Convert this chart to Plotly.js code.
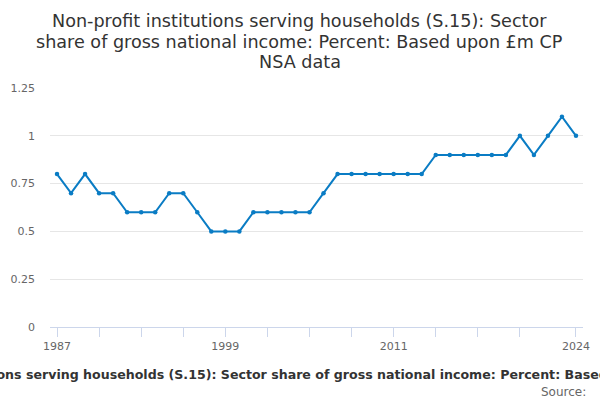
<!DOCTYPE html>
<html>
<head>
<meta charset="utf-8">
<script src="https://cdn.plot.ly/plotly-3.0.1.min.js"></script>
<style>
  html, body { margin: 0; padding: 0; background: #fff; }
  #chart { width: 600px; height: 400px; }
</style>
</head>
<body>
<div id="chart"></div>
<script>
//data
var years = [
  1987, 1988, 1989, 1990, 1991, 1992, 1993, 1994, 1995, 1996,
  1997, 1998, 1999, 2000, 2001, 2002, 2003, 2004, 2005, 2006,
  2007, 2008, 2009, 2010, 2011, 2012, 2013, 2014, 2015, 2016,
  2017, 2018, 2019, 2020, 2021, 2022, 2023, 2024
];
var share = [
  0.8, 0.7, 0.8, 0.7, 0.7, 0.6, 0.6, 0.6, 0.7, 0.7,
  0.6, 0.5, 0.5, 0.5, 0.6, 0.6, 0.6, 0.6, 0.6, 0.7,
  0.8, 0.8, 0.8, 0.8, 0.8, 0.8, 0.8, 0.9, 0.9, 0.9,
  0.9, 0.9, 0.9, 1.0, 0.9, 1.0, 1.1, 1.0
];

//x ticks: a mark every 3 years, labels only on a few
var tickYears = [1987, 1990, 1993, 1996, 1999, 2002, 2005, 2008, 2011, 2014, 2017, 2020, 2024];
var labelledYears = [1987, 1999, 2011, 2024];
var tickText = tickYears.map(function (y) {
  return labelledYears.indexOf(y) >= 0 ? String(y) : "";
});

var yTicks = [0, 0.25, 0.5, 0.75, 1, 1.25];
var yTickText = ["0", "0.25", "0.5", "0.75", "1", "1.25"];

var titleLines = [
  "Non-profit institutions serving households (S.15): Sector",
  "share of gross national income: Percent: Based upon £m CP",
  "NSA data",
];
var seriesName = "Non-profit institutions serving households (S.15): Sector share of gross national income: Percent: Based upon £m CP NSA data";

var data = [
  {
    x: years,
    y: share,
    mode: "lines+markers",
    type: "scatter",
    line: { color: "#0a7cc4", width: 2 },
    marker: { color: "#0a7cc4", size: 4.5 },
    hoverinfo: "x+y",
  },
];

//title: one annotation per line, centred on the page not the plot
var titleY = [1.28, 1.194, 1.108];
var annotations = titleLines.map(function (line, i) {
  return {
    text: line,
    xref: "paper",
    yref: "paper",
    x: 0.469,
    y: titleY[i],
    xanchor: "center",
    yanchor: "middle",
    showarrow: false,
    font: { size: 17.6, color: "#333" },
  };
});

//axis title, wider than the page and clipped on both sides
annotations.push({
  text: "<b>" + seriesName + "</b>",
  xref: "paper",
  yref: "paper",
  x: 0.497,
  y: -0.197,
  xanchor: "center",
  yanchor: "middle",
  showarrow: false,
  font: { size: 12.6, color: "#333" },
});

annotations.push({
  text: "Source:",
  xref: "paper",
  x: 1.009,
  xanchor: "right",
  yref: "paper",
  y: -0.274,
  yanchor: "middle",
  showarrow: false,
  font: { size: 12, color: "#666" },
});

var layout = {
  width: 600,
  height: 400,
  font: { family: "DejaVu Sans, sans-serif", color: "#666" },
  paper_bgcolor: "#fff",
  plot_bgcolor: "#fff",
  showlegend: false,
  margin: { l: 50, r: 17, t: 88, b: 73 },
  xaxis: {
    range: [1986.5, 2024.5],
    tickvals: tickYears,
    ticktext: tickText,
    ticks: "outside",
    ticklen: 9,
    tickcolor: "#ccd6eb",
    tickfont: { size: 11, color: "#666" },
    showline: true,
    linecolor: "#ccd6eb",
    linewidth: 1,
    showgrid: false,
    zeroline: false,
    fixedrange: true,
  },
  yaxis: {
    range: [0, 1.25],
    tickvals: yTicks,
    ticktext: yTickText,
    tickfont: { size: 11, color: "#666" },
    ticks: "",
    ticklabelstandoff: 14,
    showgrid: true,
    gridcolor: "#e6e6e6",
    gridwidth: 1,
    zeroline: false,
    showline: false,
    fixedrange: true,
  },
  annotations: annotations,
};

Plotly.newPlot("chart", data, layout, { displayModeBar: false, staticPlot: true });
</script>
</body>
</html>
